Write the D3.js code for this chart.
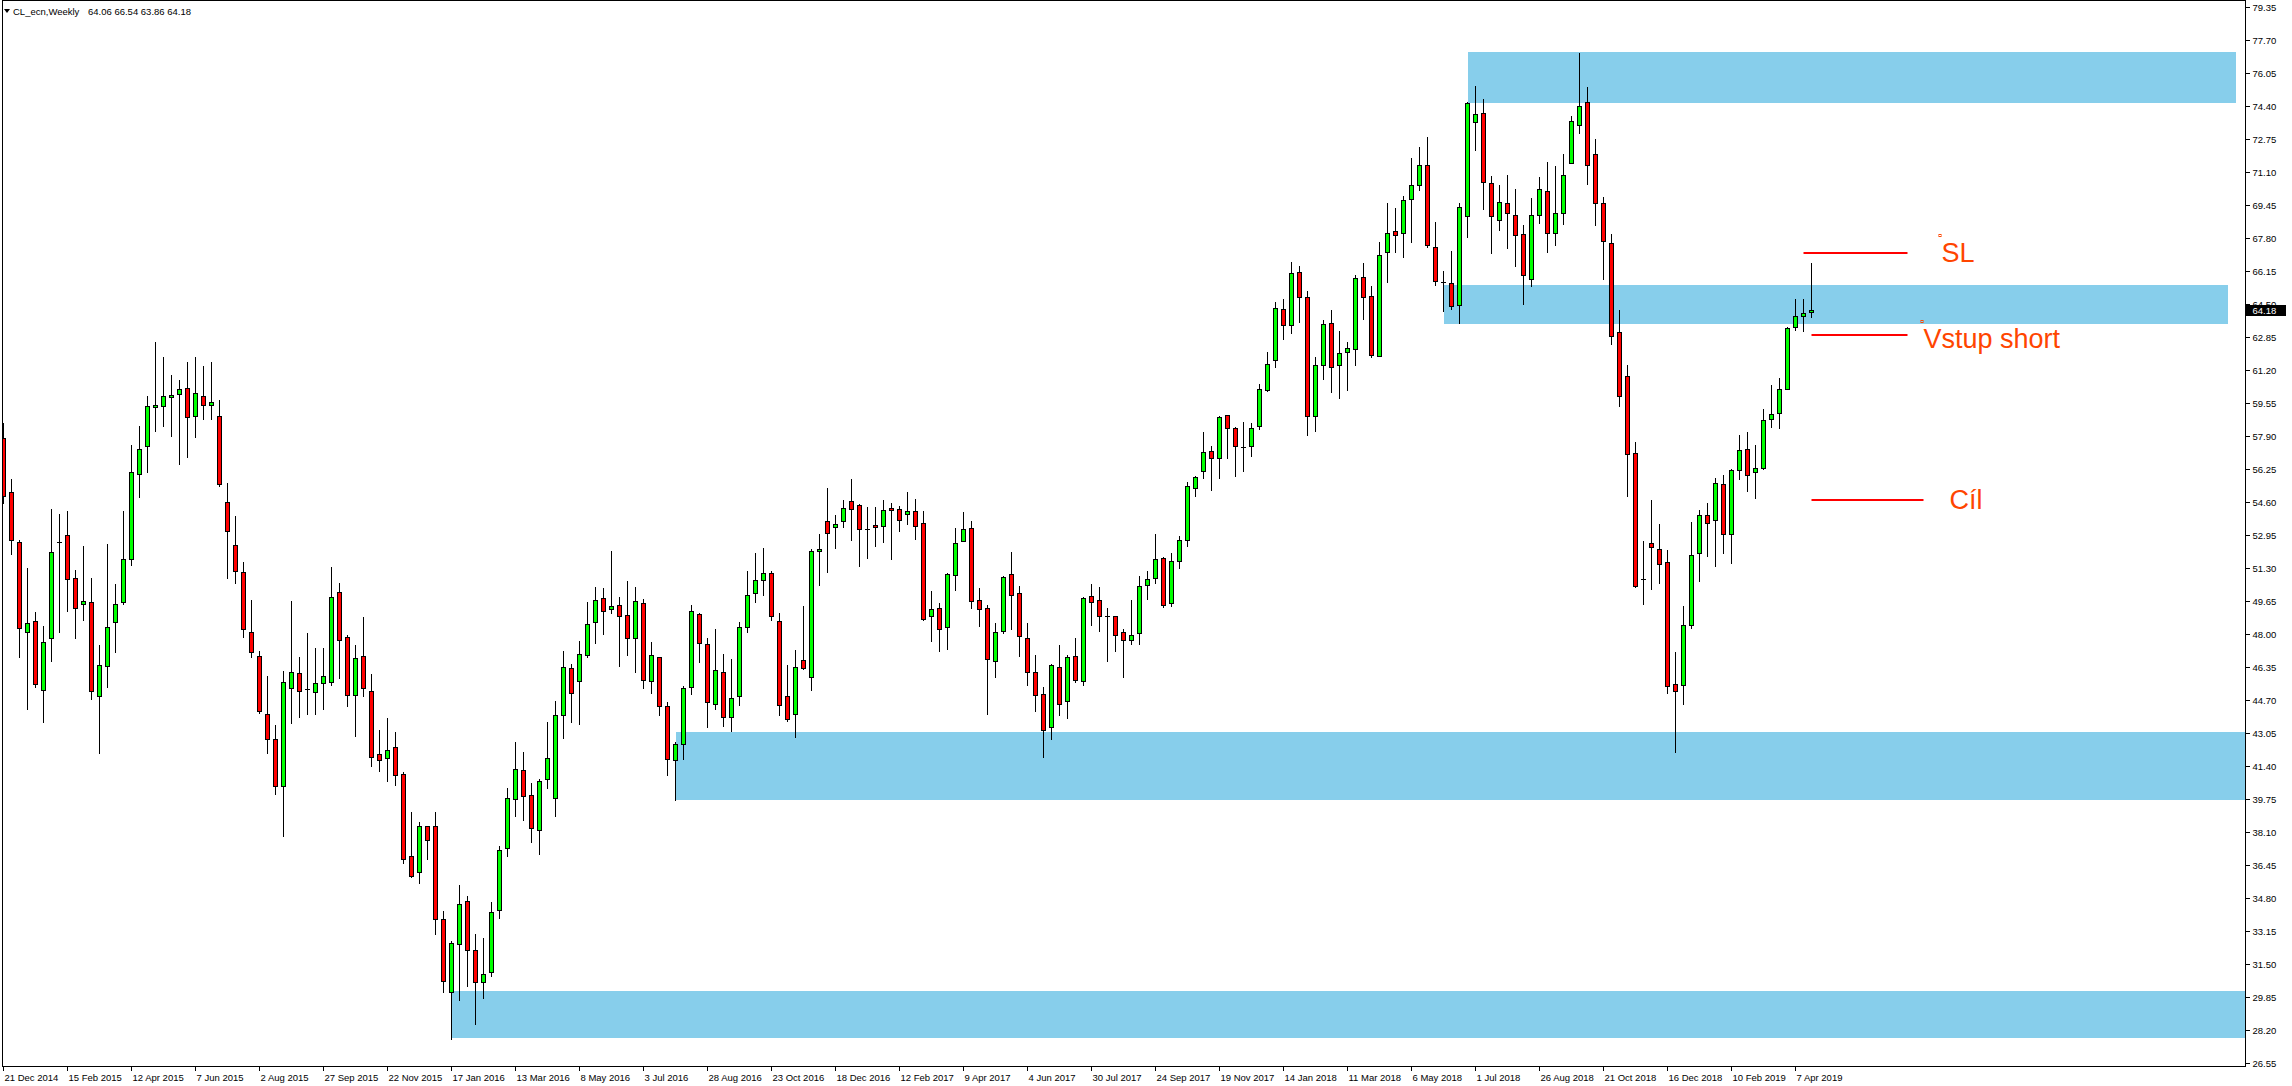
<!DOCTYPE html>
<html><head><meta charset="utf-8">
<script src="https://cdn.jsdelivr.net/npm/d3@7"></script>
<style>
html,body{margin:0;padding:0;background:#fff;overflow:hidden}
svg{display:block}
text{font-family:"Liberation Sans",Arial,sans-serif}
</style></head><body>
<svg id="chart" width="2292" height="1086"></svg>
<script>
// ---- weekly OHLC, CL_ecn (bar 0 = week of 21 Dec 2014) ----
const open = [57.77,55.07,52.57,48.10,48.62,45.17,47.77,52.60,52.92,50.77,49.47,49.57,44.87,46.37,48.57,49.57,51.72,55.97,57.37,59.32,
59.37,59.82,59.97,60.27,58.87,59.87,59.42,58.87,54.57,52.42,51.07,48.07,46.87,43.97,42.72,40.37,45.30,46.02,45.25,45.07,
45.52,45.57,50.07,47.81,44.95,46.87,45.16,42.01,41.77,42.32,41.01,36.91,36.07,38.41,38.41,33.76,30.11,32.47,34.62,32.20,
30.60,31.10,34.20,37.30,39.72,41.17,39.92,38.20,40.72,39.77,43.92,46.27,45.62,46.92,48.57,49.77,49.22,49.42,48.92,47.77,
49.52,45.62,46.82,44.37,41.67,42.47,45.32,48.97,47.47,44.47,46.07,43.82,44.87,48.32,50.02,50.67,51.02,48.62,44.87,43.97,
46.67,45.82,52.12,53.62,53.32,53.62,54.62,54.42,53.24,53.42,53.37,54.27,54.22,53.97,54.12,53.52,48.87,49.27,48.32,50.92,
52.62,53.27,49.67,49.27,46.62,48.12,50.97,50.02,47.77,46.07,44.97,43.32,46.32,44.62,46.87,45.62,49.87,49.67,48.87,48.87,
48.07,47.67,48.02,50.42,50.77,51.77,49.52,51.62,52.70,55.30,56.12,57.12,56.77,58.92,58.27,57.32,57.37,58.37,60.17,61.67,
64.22,63.42,66.07,64.82,58.87,61.42,63.52,61.42,62.07,62.22,65.82,64.87,61.87,67.07,68.12,68.02,69.72,70.45,71.42,67.35,
65.59,65.52,64.42,68.87,73.60,74.01,70.52,68.71,69.51,68.92,67.97,65.72,68.96,70.15,68.02,69.01,71.51,73.46,74.56,71.97,
69.51,67.52,63.07,60.87,57.02,50.75,52.52,52.22,51.57,45.50,45.45,48.45,52.05,53.95,53.67,55.47,52.97,56.17,57.22,56.07,
56.27,58.72,59.02,60.22,63.32,63.87,64.06];
const high = [58.52,55.72,52.68,51.27,49.07,48.37,54.22,53.97,54.12,51.17,52.37,50.77,47.42,52.47,50.47,54.12,57.42,58.37,59.87,62.57,
61.82,60.92,60.67,61.57,61.82,61.37,61.57,59.67,55.52,53.87,51.58,49.69,47.14,45.88,43.42,46.16,49.64,46.83,48.04,47.28,
47.28,51.34,50.53,47.92,47.43,48.83,45.97,43.18,43.77,43.11,41.08,39.07,38.57,38.41,39.07,34.12,32.64,35.43,34.88,33.00,
32.80,34.60,37.40,40.30,42.59,42.09,40.52,40.72,43.59,44.64,47.12,46.47,47.62,49.57,50.32,50.27,52.14,49.82,50.62,50.32,
49.72,47.57,46.82,44.57,42.57,45.37,49.42,49.02,47.77,48.22,46.97,46.72,48.57,51.12,52.02,52.27,51.12,49.02,46.42,47.17,
49.37,52.22,52.97,55.27,53.92,54.67,55.72,54.47,54.32,54.32,54.67,54.52,54.37,55.07,54.72,54.12,50.12,49.52,51.02,53.27,
54.07,53.62,50.27,49.42,48.52,50.87,52.07,50.37,48.52,46.92,45.32,46.47,47.42,46.92,47.77,49.82,50.47,50.32,49.27,48.87,
48.22,49.67,50.87,51.12,52.97,51.82,52.02,52.90,55.60,55.88,58.07,57.37,58.87,58.92,58.32,58.57,58.52,60.47,62.07,64.57,
64.72,66.57,66.37,65.12,61.82,63.67,64.17,63.12,62.57,65.92,66.52,65.37,67.57,69.52,69.27,69.87,71.76,72.31,72.84,68.59,
66.16,67.12,69.53,74.59,75.39,74.75,70.89,70.45,70.94,70.25,68.46,69.76,70.84,71.60,71.37,71.99,73.87,77.04,75.34,72.73,
69.81,68.00,64.17,61.42,57.57,52.62,54.67,53.47,52.17,47.07,49.40,53.57,54.17,54.52,55.77,55.92,56.22,57.92,58.07,57.42,
59.22,60.42,60.77,63.32,64.72,64.72,66.54];
const low = [54.52,52.00,46.85,44.22,45.35,43.60,46.65,48.10,49.15,47.80,48.70,44.75,42.05,45.35,47.07,49.50,51.45,54.85,56.10,58.15,
58.40,57.90,56.50,56.82,57.85,58.72,58.75,55.40,50.80,50.52,47.83,46.85,44.04,42.03,39.98,37.89,43.54,43.84,44.01,44.00,
44.25,45.45,45.78,44.39,42.89,44.90,41.41,41.13,40.65,40.46,36.55,35.83,35.55,36.76,33.00,30.09,27.73,29.70,30.40,28.50,
29.80,30.90,33.80,36.90,38.90,38.70,37.60,37.00,40.27,38.90,42.77,43.60,43.50,46.82,47.52,47.97,49.02,46.37,46.92,46.07,
45.30,45.02,43.92,40.92,39.67,41.72,44.97,46.60,43.32,44.25,43.40,43.15,44.42,48.07,49.57,49.92,48.67,43.92,43.62,42.85,
46.22,45.20,50.45,51.10,52.30,53.32,52.67,51.40,51.77,52.37,52.57,51.72,53.12,53.47,52.72,48.69,47.65,47.15,47.25,50.17,
52.62,49.27,48.37,44.00,45.82,48.02,48.22,46.87,45.42,44.12,41.85,42.72,43.92,43.77,45.57,45.42,48.42,48.12,46.62,47.12,
45.82,47.47,47.47,49.72,50.52,49.32,49.37,51.30,52.40,54.90,55.80,55.18,55.77,56.77,55.87,56.12,56.87,58.22,60.12,61.32,
62.75,63.02,63.57,57.92,58.12,60.72,60.07,59.77,60.17,61.42,63.72,61.82,61.87,65.57,67.07,66.82,67.56,70.18,67.35,65.45,
64.14,64.23,63.54,67.84,72.17,69.24,67.03,68.20,67.29,66.37,64.49,65.36,68.55,67.06,67.45,68.48,71.51,73.05,70.48,68.43,
65.75,62.48,59.40,54.90,50.35,49.50,50.25,50.55,45.05,42.10,44.50,48.30,50.65,51.90,51.40,52.05,51.55,55.72,55.15,54.77,
56.22,58.32,58.27,60.22,63.17,63.12,63.86];
const close = [54.90,52.67,48.27,48.52,45.47,47.57,52.07,52.60,50.72,49.27,49.62,45.12,46.42,48.32,49.47,51.72,56.07,57.22,59.37,59.42,
59.87,59.92,60.22,58.82,60.02,59.42,59.57,55.50,53.12,51.12,48.24,47.07,44.16,42.72,40.37,45.57,46.07,45.16,45.25,45.52,
45.87,49.86,47.71,44.95,46.81,45.30,41.85,41.67,42.17,40.96,36.72,35.91,38.38,37.67,33.76,30.66,32.52,34.47,32.21,30.60,
31.00,34.10,37.20,39.77,41.22,39.87,38.30,40.62,41.77,43.92,46.32,45.02,46.97,48.47,49.67,49.12,49.37,48.87,47.77,49.62,
45.67,46.92,44.37,41.72,42.47,45.27,49.12,47.52,44.57,46.17,43.82,44.77,48.32,49.92,50.67,51.02,48.87,44.42,43.72,46.32,
46.27,52.12,52.22,53.02,53.47,54.27,54.22,53.22,53.24,53.32,54.17,54.17,53.67,54.12,53.37,48.72,49.22,48.22,50.97,52.52,
53.22,49.62,49.22,46.72,48.07,50.82,49.92,47.87,46.07,44.92,43.17,46.42,44.47,46.82,45.67,49.77,49.57,48.87,48.87,47.92,
47.67,47.92,50.37,50.72,51.72,49.42,51.62,52.70,55.40,55.82,57.07,56.77,58.82,58.27,57.37,57.32,58.27,60.22,61.47,64.27,
63.42,66.02,64.82,58.87,61.42,63.47,61.32,62.02,62.27,65.77,64.82,61.92,66.92,68.02,67.92,69.67,70.45,71.42,67.42,65.66,
65.59,64.37,69.35,74.52,73.97,70.57,68.87,69.56,69.01,67.95,65.95,68.96,70.22,68.02,69.05,70.96,73.62,74.36,71.46,69.51,
67.63,62.87,59.90,56.97,50.40,50.75,52.32,51.47,45.40,45.15,48.45,51.95,53.95,53.55,55.52,52.97,56.17,57.17,55.92,56.27,
58.67,58.97,60.22,63.27,63.87,64.02,64.18];

const dateLabels = ["21 Dec 2014","15 Feb 2015","12 Apr 2015","7 Jun 2015","2 Aug 2015","27 Sep 2015","22 Nov 2015",
"17 Jan 2016","13 Mar 2016","8 May 2016","3 Jul 2016","28 Aug 2016","23 Oct 2016","18 Dec 2016","12 Feb 2017",
"9 Apr 2017","4 Jun 2017","30 Jul 2017","24 Sep 2017","19 Nov 2017","14 Jan 2018","11 Mar 2018","6 May 2018",
"1 Jul 2018","26 Aug 2018","21 Oct 2018","16 Dec 2018","10 Feb 2019","7 Apr 2019"];
const dateLabelBars = [0,8,16,24,32,40,48,56,64,72,80,88,96,104,112,120,128,136,144,152,160,168,176,184,192,200,208,216,224];
const priceTicks = [79.35,77.70,76.05,74.40,72.75,71.10,69.45,67.80,66.15,64.50,62.85,61.20,59.55,57.90,56.25,54.60,52.95,
51.30,49.65,48.00,46.35,44.70,43.05,41.40,39.75,38.10,36.45,34.80,33.15,31.50,29.85,28.20,26.55];

// zones (price bands drawn from a bar onward)
const zoneTop    = [77.07, 65.44, 43.08, 30.13];
const zoneBottom = [74.55, 63.50, 39.69, 27.80];
const zoneFrom   = [183, 180, 84, 56];
const zoneTo     = [279, 278, 300, 300];

// trade levels
const levelNames  = ["SL", "Vstup short", "Cíl"];
const levelPrices = [67.05, 62.95, 54.70];
const levelFrom   = [225, 226, 226];
const levelTo     = [238, 238, 240];

const symbolName = "CL_ecn,Weekly";
const lastQuote = ["64.06","66.54","63.86","64.18"];

// ---- layout ----
const W = 2292, H = 1086;
const axisX = 2245, plotBottom = 1066;
const svg = d3.select("#chart");

const x = d3.scaleLinear().domain([0, 1]).range([3.5, 11.5]);
const y = d3.scaleLinear().domain([26.55, 79.35]).range([1062.7, 6.7]);
const py = v => Math.round(y(v));

svg.append("rect").attr("width", W).attr("height", H).attr("fill", "#fff");

svg.append("defs").append("clipPath").attr("id", "plot")
  .append("rect").attr("x", 3).attr("y", 1).attr("width", axisX - 3).attr("height", plotBottom - 1);

const plot = svg.append("g").attr("clip-path", "url(#plot)").attr("shape-rendering", "crispEdges");

// zones
plot.selectAll("rect.zone").data(zoneTop).join("rect").attr("class", "zone")
  .attr("x", (d, k) => Math.round(x(zoneFrom[k])))
  .attr("y", (d, k) => py(zoneTop[k]))
  .attr("width", (d, k) => Math.round(x(zoneTo[k])) - Math.round(x(zoneFrom[k])))
  .attr("height", (d, k) => py(zoneBottom[k]) - py(zoneTop[k]))
  .attr("fill", "#87CEEB");

// candles
const bars = d3.range(open.length);
const g = plot.append("g");
g.selectAll("line.wick").data(bars).join("line").attr("class", "wick")
  .attr("x1", i => x(i)).attr("x2", i => x(i))
  .attr("y1", i => py(high[i])).attr("y2", i => py(low[i]) + 1)
  .attr("stroke", "#000").attr("stroke-width", 1);

const bodies = bars.filter(i => py(open[i]) !== py(close[i]));
const dojis = bars.filter(i => py(open[i]) === py(close[i]));
g.selectAll("rect.body").data(bodies).join("rect").attr("class", "body")
  .attr("x", i => x(i) - 2).attr("width", 4)
  .attr("y", i => py(Math.max(open[i], close[i])) + 0.5)
  .attr("height", i => py(Math.min(open[i], close[i])) - py(Math.max(open[i], close[i])))
  .attr("fill", i => close[i] >= open[i] ? "#00FF00" : "#FF0000")
  .attr("stroke", "#000").attr("stroke-width", 1);
g.selectAll("line.doji").data(dojis).join("line").attr("class", "doji")
  .attr("x1", i => x(i) - 2.5).attr("x2", i => x(i) + 2.5)
  .attr("y1", i => py(open[i]) + 0.5).attr("y2", i => py(open[i]) + 0.5)
  .attr("stroke", "#000").attr("stroke-width", 1);

// trade levels
const ann = svg.append("g");
ann.selectAll("line.level").data(levelPrices).join("line").attr("class", "level")
  .attr("x1", (d, k) => x(levelFrom[k])).attr("x2", (d, k) => x(levelTo[k]))
  .attr("y1", d => py(d)).attr("y2", d => py(d))
  .attr("stroke", "#FF0000").attr("stroke-width", 2);
const labelDx = [34, 16, 26];
const labelDy = [9, 13, 9];
ann.selectAll("text.level").data(levelNames).join("text").attr("class", "level")
  .attr("x", (d, k) => x(levelTo[k]) + labelDx[k])
  .attr("y", (d, k) => py(levelPrices[k]) + labelDy[k])
  .attr("font-size", 27).attr("fill", "#FF4500").text(d => d);
ann.selectAll("rect.anchor").data([0, 1]).join("rect").attr("class", "anchor")
  .attr("x", k => x(levelTo[k]) + labelDx[k] - 2.5)
  .attr("y", k => py(levelPrices[k]) + labelDy[k] - 27.5)
  .attr("width", 2).attr("height", 2)
  .attr("fill", "none").attr("stroke", "#FF4500").attr("stroke-width", 1);

// frame
const frame = svg.append("g").attr("shape-rendering", "crispEdges");
frame.append("line").attr("x1", 2.5).attr("x2", 2.5).attr("y1", 0).attr("y2", plotBottom + 0.5).attr("stroke", "#000");
frame.append("line").attr("x1", 2).attr("x2", axisX).attr("y1", 0.5).attr("y2", 0.5).attr("stroke", "#000");

// price axis
const yAxis = d3.axisRight(y).tickValues(priceTicks).tickFormat(d3.format(".2f")).tickSize(4).tickPadding(3);
const ya = svg.append("g").attr("transform", `translate(${axisX + 0.5},0)`).call(yAxis);
ya.select(".domain").remove();
ya.selectAll(".tick").attr("transform", d => `translate(0,${py(d) + 0.5})`);
ya.selectAll("line").attr("stroke", "#000").attr("shape-rendering", "crispEdges");
ya.selectAll("text").attr("font-size", 9.5).attr("font-family", "'Liberation Sans',Arial,sans-serif").attr("fill", "#000");
frame.append("line").attr("x1", axisX + 0.5).attr("x2", axisX + 0.5).attr("y1", 0).attr("y2", plotBottom + 0.5).attr("stroke", "#000");

// date axis
const xa = svg.append("g").attr("shape-rendering", "crispEdges");
frame.append("line").attr("x1", 2).attr("x2", axisX + 1).attr("y1", plotBottom + 0.5).attr("y2", plotBottom + 0.5).attr("stroke", "#000");
xa.selectAll("line").data(dateLabelBars).join("line")
  .attr("x1", d => x(d)).attr("x2", d => x(d))
  .attr("y1", plotBottom).attr("y2", plotBottom + 5).attr("stroke", "#000");
xa.selectAll("text").data(dateLabels).join("text")
  .attr("x", (d, k) => x(dateLabelBars[k]) + 1).attr("y", plotBottom + 15)
  .attr("font-size", 9.5).attr("fill", "#000").text(d => d);

// current price label
const lastY = py(+lastQuote[3]);
svg.append("rect").attr("x", axisX + 1).attr("y", lastY - 5).attr("width", 40).attr("height", 11).attr("fill", "#000");
svg.append("text").attr("x", axisX + 7.5).attr("y", lastY + 4).attr("font-size", 9.5).attr("fill", "#fff").text(lastQuote[3]);

// header
svg.append("path").attr("d", "M4,9 L10,9 L7,13 Z").attr("fill", "#000");
svg.append("text").attr("x", 13).attr("y", 15).attr("font-size", 9.5).attr("fill", "#000").text(symbolName);
svg.append("text").attr("x", 88).attr("y", 15).attr("font-size", 9.5).attr("fill", "#000").text(lastQuote.join(" "));
</script>
</body></html>
